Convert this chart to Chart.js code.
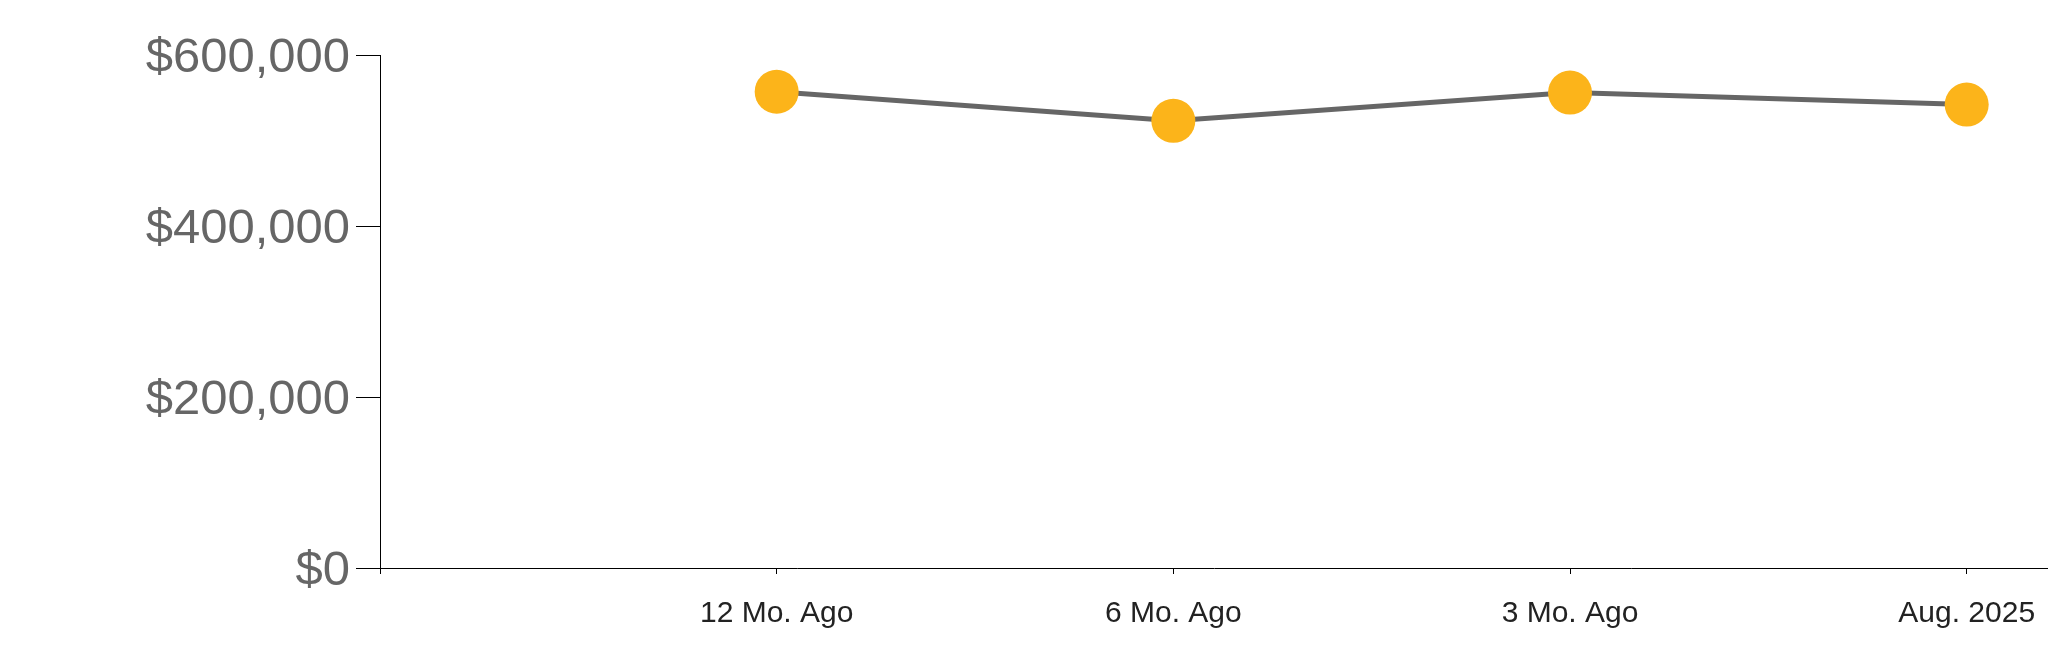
<!DOCTYPE html>
<html>
<head>
<meta charset="utf-8">
<script src="https://cdn.jsdelivr.net/npm/chart.js@4"></script>
<style>
    html, body { margin: 0; padding: 0; background: #fff; }
    #wrap { width: 2048px; height: 663px; }
</style>
</head>
<body>
<div id="wrap"><canvas id="price-chart" width="2048" height="663"></canvas></div>
<script>
// values
const periodLabels = ['12 Mo. Ago', '6 Mo. Ago', '3 Mo. Ago', 'Aug. 2025'];
const periodPos    = [1, 2, 3, 4];
const medianPrice  = [557000, 523000, 556000, 542000];
const yTicks       = [0, 200000, 400000, 600000];

const ctx = document.getElementById('price-chart').getContext('2d');

new Chart(ctx, {
    type: 'line',
    data: {
        datasets: [{
            data: periodPos.map((x, i) => ({ x, y: medianPrice[i] })),
            borderColor: '#666666',
            borderWidth: 5,
            pointBackgroundColor: '#fcb41a',
            pointBorderWidth: 0,
            pointRadius: 22,
            pointHoverRadius: 22,
            tension: 0
        }]
    },
    options: {
        responsive: false,
        animation: false,
        layout: {
            autoPadding: false,
            padding: { top: 55, left: 0, right: 0, bottom: 0 }
        },
        plugins: { legend: { display: false }, tooltip: { enabled: false } },
        scales: {
            x: {
                type: 'linear',
                min: 0,
                max: 4.205,
                afterBuildTicks: axis => {
                    axis.ticks = [0, 1, 2, 3, 4].map(v => ({ value: v }));
                },
                afterFit: axis => {
                    axis.height = 95;
                    axis.paddingLeft = 0;
                    axis.paddingRight = 0;
                },
                grid: {
                    drawOnChartArea: false,
                    tickLength: 6,
                    color: '#000'
                },
                border: { color: '#000', width: 1 },
                ticks: {
                    color: '#222',
                    padding: 22,
                    maxRotation: 0,
                    autoSkip: false,
                    font: { family: "'Liberation Sans', Arial, sans-serif", size: 30 },
                    callback: v => periodLabels[v - 1] || ''
                }
            },
            y: {
                min: 0,
                max: 600000,
                afterBuildTicks: axis => {
                    axis.ticks = yTicks.map(v => ({ value: v }));
                },
                afterFit: axis => {
                    axis.width = 380;
                    axis.paddingTop = 0;
                    axis.paddingBottom = 0;
                },
                grid: {
                    drawOnChartArea: false,
                    tickLength: 24,
                    color: '#000'
                },
                border: { color: '#000', width: 1 },
                ticks: {
                    color: '#666',
                    padding: 6,
                    labelOffset: 3,
                    font: { family: "'Liberation Sans', Arial, sans-serif", size: 49 },
                    callback: v => '$' + v.toLocaleString('en-US')
                }
            }
        }
    }
});
</script>
</body>
</html>
